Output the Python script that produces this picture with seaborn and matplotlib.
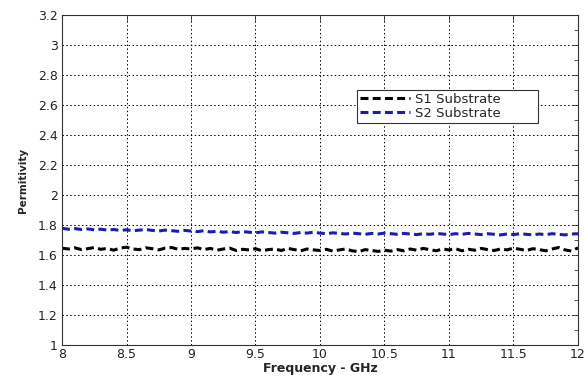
import numpy as np
import pandas as pd
import matplotlib
matplotlib.use("Agg")
import matplotlib.pyplot as plt
import seaborn as sns
from matplotlib.ticker import MultipleLocator

# Measured permittivity of two substrates over the X band
freq_ghz = np.linspace(8.0, 12.0, 81)

s1_permittivity = [
    1.645, 1.640, 1.648, 1.636, 1.642, 1.650, 1.638, 1.644, 1.632, 1.646,
    1.652, 1.640, 1.636, 1.648, 1.642, 1.634, 1.646, 1.650, 1.638, 1.644,
    1.640, 1.648, 1.636, 1.644, 1.632, 1.640, 1.646, 1.630, 1.638, 1.634,
    1.642, 1.628, 1.636, 1.640, 1.630, 1.644, 1.636, 1.628, 1.640, 1.634,
    1.630, 1.638, 1.626, 1.634, 1.640, 1.628, 1.622, 1.636, 1.630, 1.624,
    1.632, 1.626, 1.636, 1.628, 1.640, 1.632, 1.644, 1.636, 1.628, 1.640,
    1.634, 1.642, 1.628, 1.638, 1.632, 1.644, 1.636, 1.630, 1.640, 1.634,
    1.646, 1.638, 1.630, 1.642, 1.636, 1.628, 1.640, 1.650, 1.634, 1.626,
    1.648,
]

s2_permittivity = [
    1.778, 1.772, 1.776, 1.770, 1.774, 1.768, 1.772, 1.766, 1.770, 1.764,
    1.768, 1.762, 1.766, 1.770, 1.764, 1.760, 1.766, 1.762, 1.758, 1.764,
    1.760, 1.756, 1.762, 1.754, 1.758, 1.752, 1.756, 1.750, 1.756, 1.752,
    1.748, 1.754, 1.750, 1.746, 1.752, 1.748, 1.744, 1.750, 1.746, 1.752,
    1.746, 1.742, 1.748, 1.744, 1.740, 1.746, 1.742, 1.738, 1.744, 1.740,
    1.746, 1.742, 1.738, 1.744, 1.740, 1.736, 1.742, 1.738, 1.744, 1.740,
    1.736, 1.742, 1.738, 1.744, 1.740, 1.736, 1.742, 1.738, 1.734, 1.740,
    1.736, 1.742, 1.738, 1.734, 1.740, 1.736, 1.742, 1.738, 1.734, 1.740,
    1.742,
]

series_names = ["S1 Substrate", "S2 Substrate"]
series_colors = ["#000000", "#1c1cb0"]

x_ticks = [8, 8.5, 9, 9.5, 10, 10.5, 11, 11.5, 12]
x_tick_labels = ["8", "8.5", "9", "9.5", "10", "10.5", "11", "11.5", "12"]
y_ticks = [1, 1.2, 1.4, 1.6, 1.8, 2, 2.2, 2.4, 2.6, 2.8, 3, 3.2]
y_tick_labels = ["1", "1.2", "1.4", "1.6", "1.8", "2", "2.2", "2.4", "2.6", "2.8", "3", "3.2"]

df = pd.concat([
    pd.DataFrame({"Frequency": freq_ghz, "Permittivity": s1_permittivity, "Series": series_names[0]}),
    pd.DataFrame({"Frequency": freq_ghz, "Permittivity": s2_permittivity, "Series": series_names[1]}),
])

sns.set_style("white")
plt.rcParams["font.family"] = ["DejaVu Sans"]

fig = plt.figure(figsize=(5.85, 3.78), dpi=100)
ax = fig.add_axes([0.106, 0.0873, 0.882, 0.873])

dash_pattern = (2.6, 1.4)
sns.lineplot(
    data=df, x="Frequency", y="Permittivity", hue="Series",
    palette=dict(zip(series_names, series_colors)),
    linewidth=2.2, ax=ax, legend=False,
)
for line in ax.get_lines():
    line.set_dashes(dash_pattern)

ax.set_xlim(8, 12)
ax.set_ylim(1, 3.2)
ax.set_xticks(x_ticks)
ax.set_xticklabels(x_tick_labels)
ax.set_yticks(y_ticks)
ax.set_yticklabels(y_tick_labels)
ax.yaxis.set_minor_locator(MultipleLocator(0.1))

ax.grid(True, which="major", color="black", linestyle=(0, (1.5, 2.5)), linewidth=0.7)
ax.tick_params(axis="both", which="both", direction="in", top=True, right=True,
               labelsize=9, colors="#333333", labelcolor="#222222")
ax.tick_params(axis="both", which="major", length=4, width=0.6)
ax.tick_params(axis="x", which="major", pad=2.5)
ax.tick_params(axis="y", which="major", pad=3)
ax.tick_params(axis="y", which="minor", length=3, width=0.6)
for spine in ax.spines.values():
    spine.set_color("#333333")
    spine.set_linewidth(0.8)

ax.set_xlabel("Frequency - GHz", fontsize=9, fontweight="bold", labelpad=0.5)
ax.set_ylabel("Permitivity", fontsize=7.5, fontweight="bold", labelpad=7)

handles = [plt.Line2D([0], [0], color=c, linewidth=2.2, dashes=dash_pattern) for c in series_colors]
leg = ax.legend(handles, series_names, loc="upper left",
                bbox_to_anchor=(0.572, 0.683, 0.351, 0.09), mode="expand",
                fontsize=9.5, frameon=True, fancybox=False, framealpha=1,
                edgecolor="#333333", handlelength=3.8, handletextpad=0.4,
                borderpad=0.2, labelspacing=0.1, borderaxespad=0)
leg.get_frame().set_linewidth(0.8)

fig.savefig("out.png", dpi=100, facecolor="white")
